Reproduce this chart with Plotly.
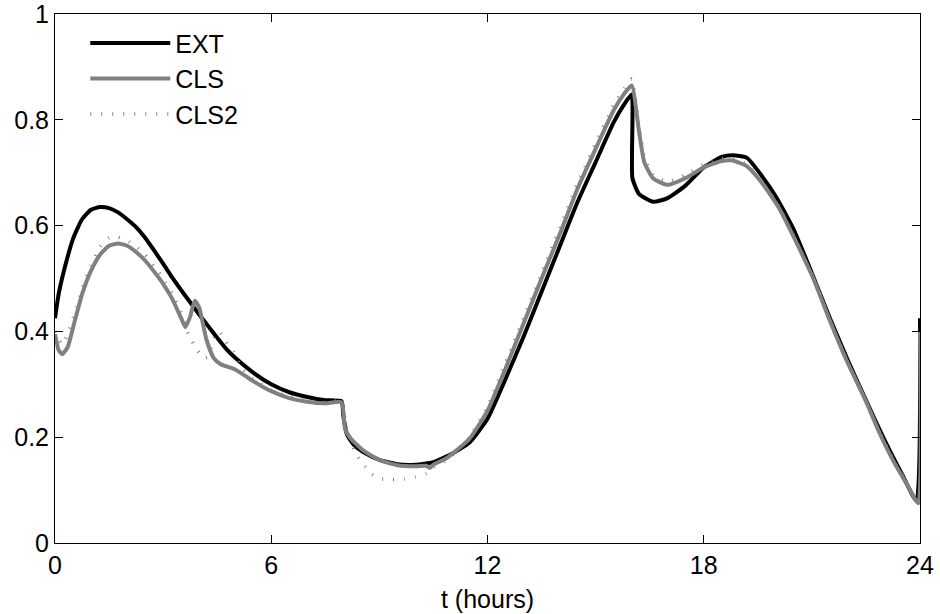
import plotly.graph_objects as go

# EXT (black)
ext_t = [0.0, 0.1, 0.25, 0.5, 0.75, 1.0, 1.25, 1.5, 1.75, 2.0, 2.25, 2.5, 2.75, 3.0, 3.25, 3.5, 3.75, 4.0,
         4.25, 4.5, 4.75, 5.0, 5.5, 6.0, 6.5, 7.0, 7.5, 7.95, 8.0, 8.1, 8.3, 8.6, 9.0, 9.5, 10.0, 10.5,
         11.0, 11.5, 12.0, 12.5, 13.0, 13.5, 14.0, 14.5, 15.0, 15.5, 15.8, 16.0, 16.02, 16.2, 16.6, 17.0,
         17.5, 18.0, 18.5, 18.8, 19.2, 19.6, 20.0, 20.5, 21.0, 21.5, 22.0, 22.5, 23.0, 23.5, 23.9, 24.0]
ext_v = [0.425, 0.47, 0.515, 0.575, 0.612, 0.630, 0.635, 0.633, 0.625, 0.612, 0.597, 0.577, 0.553, 0.528,
         0.502, 0.478, 0.455, 0.432, 0.410, 0.388, 0.367, 0.350, 0.322, 0.300, 0.285, 0.276, 0.270, 0.268,
         0.24, 0.205, 0.185, 0.170, 0.157, 0.149, 0.148, 0.153, 0.168, 0.19, 0.235, 0.31, 0.39, 0.475,
         0.56, 0.645, 0.72, 0.795, 0.83, 0.848, 0.69, 0.66, 0.645, 0.652, 0.676, 0.710, 0.730, 0.733,
         0.728, 0.695, 0.655, 0.592, 0.51, 0.425, 0.345, 0.27, 0.197, 0.13, 0.08, 0.425]

# CLS (grey solid)
cls_t = [0.0, 0.1, 0.2, 0.35, 0.55, 0.75, 1.0, 1.25, 1.5, 1.75, 2.0, 2.25, 2.5, 2.75, 3.0, 3.25, 3.5,
         3.62, 3.75, 3.88, 4.0, 4.2, 4.4, 4.6, 5.0, 5.3, 5.5, 6.0, 6.5, 7.0, 7.5, 7.95, 8.05, 8.2, 8.55,
         9.0, 9.5, 10.0, 10.3, 10.4, 10.5, 10.9, 11.5, 12.0, 12.5, 13.0, 13.5, 14.0, 14.5, 15.0, 15.5,
         15.8, 16.0, 16.2, 16.35, 16.6, 17.0, 17.5, 18.0, 18.5, 18.8, 19.2, 19.6, 20.1, 20.5, 21.04, 21.5,
         21.97, 22.5, 22.89, 23.3, 23.63, 23.95, 24.0]
cls_v = [0.395, 0.365, 0.357, 0.37, 0.42, 0.47, 0.515, 0.545, 0.562, 0.566, 0.562, 0.550, 0.534, 0.513,
         0.490, 0.462, 0.425, 0.408, 0.428, 0.458, 0.445, 0.385, 0.350, 0.338, 0.328, 0.315, 0.306, 0.287,
         0.274, 0.267, 0.264, 0.266, 0.215, 0.198, 0.175, 0.157, 0.147, 0.145, 0.146, 0.142, 0.148, 0.162,
         0.197, 0.25, 0.33, 0.415, 0.50, 0.583, 0.67, 0.745, 0.818, 0.85, 0.865, 0.78, 0.72, 0.689, 0.677,
         0.69, 0.71, 0.722, 0.723, 0.712, 0.682, 0.632, 0.578, 0.50, 0.42, 0.344, 0.268, 0.206, 0.15,
         0.112, 0.075, 0.40]

# CLS2 (grey dotted)
cls2_t = [0.0, 0.2, 0.35, 0.55, 0.75, 1.0, 1.25, 1.5, 1.75, 2.0, 2.25, 2.5, 2.75, 3.0, 3.25, 3.5, 3.7,
          3.9, 4.1, 4.25, 4.4, 4.55, 4.75, 4.95, 5.2, 5.5, 6.0, 6.5, 7.0, 7.5, 7.95, 8.05, 8.2, 8.35, 8.55,
          8.75, 9.0, 9.35, 9.7, 10.0, 10.3, 10.5, 10.9, 11.5, 12.0, 12.5, 13.0, 13.5, 14.0, 14.5, 15.0,
          15.5, 15.8, 16.0, 16.2, 16.35, 16.6, 17.0, 17.5, 18.0, 18.5, 18.8, 19.2, 19.6, 20.1, 20.5, 21.04,
          21.5, 21.97, 22.5, 22.89, 23.3, 23.63, 23.95, 24.0]
cls2_v = [0.40, 0.375, 0.395, 0.435, 0.48, 0.525, 0.56, 0.577, 0.578, 0.572, 0.560, 0.545, 0.523, 0.50,
          0.472, 0.435, 0.395, 0.37, 0.35, 0.352, 0.385, 0.40, 0.38, 0.362, 0.33, 0.31, 0.29, 0.276, 0.269,
          0.266, 0.268, 0.23, 0.195, 0.168, 0.15, 0.132, 0.122, 0.12, 0.121, 0.125, 0.132, 0.143, 0.158,
          0.2, 0.258, 0.34, 0.425, 0.51, 0.594, 0.68, 0.755, 0.828, 0.86, 0.877, 0.79, 0.73, 0.695, 0.683,
          0.696, 0.716, 0.727, 0.727, 0.716, 0.685, 0.634, 0.58, 0.502, 0.422, 0.346, 0.27, 0.208, 0.152,
          0.113, 0.076, 0.40]

x_ticks = [0, 6, 12, 18, 24]
y_ticks = [0, 0.2, 0.4, 0.6, 0.8, 1]
y_tick_text = ["0", "0.2", "0.4", "0.6", "0.8", "1"]

FONT = "Liberation Sans, Arial, Helvetica, sans-serif"
GREY = "#808080"

fig = go.Figure()
fig.add_trace(go.Scatter(x=ext_t, y=ext_v, mode="lines", name="EXT",
                         line=dict(color="black", width=4, shape="spline", smoothing=0.5)))
fig.add_trace(go.Scatter(x=cls_t, y=cls_v, mode="lines", name="CLS",
                         line=dict(color=GREY, width=4, shape="spline", smoothing=0.5)))
fig.add_trace(go.Scatter(x=cls2_t, y=cls2_v, mode="lines", name="CLS2",
                         line=dict(color=GREY, width=3.5, dash="1px,10px", shape="spline", smoothing=0.5)))

axis_common = dict(showline=True, linecolor="black", linewidth=1, mirror="ticks",
                   ticks="inside", ticklen=8, tickcolor="black", tickwidth=1,
                   showgrid=False, zeroline=False, ticklabeloverflow="allow", automargin=False,
                   tickfont=dict(family=FONT, size=25, color="black"))

fig.update_xaxes(range=[0, 24], tickvals=x_ticks, ticktext=[str(v) for v in x_ticks],
                 title=dict(text="t (hours)", font=dict(family=FONT, size=25, color="black"), standoff=12),
                 **axis_common)
fig.update_yaxes(range=[0, 1], tickvals=y_ticks, ticktext=y_tick_text, **axis_common)

fig.update_layout(
    width=940, height=614,
    margin=dict(l=55, r=20, t=14, b=71, autoexpand=False),
    plot_bgcolor="white", paper_bgcolor="white",
    font=dict(family=FONT, size=25, color="black"),
    showlegend=True,
    legend=dict(x=0.035, y=0.988, xanchor="left", yanchor="top", bgcolor="rgba(0,0,0,0)",
                borderwidth=0, itemwidth=80, tracegroupgap=0,
                font=dict(family=FONT, size=25, color="black")),
)

fig.write_html("out.html")
